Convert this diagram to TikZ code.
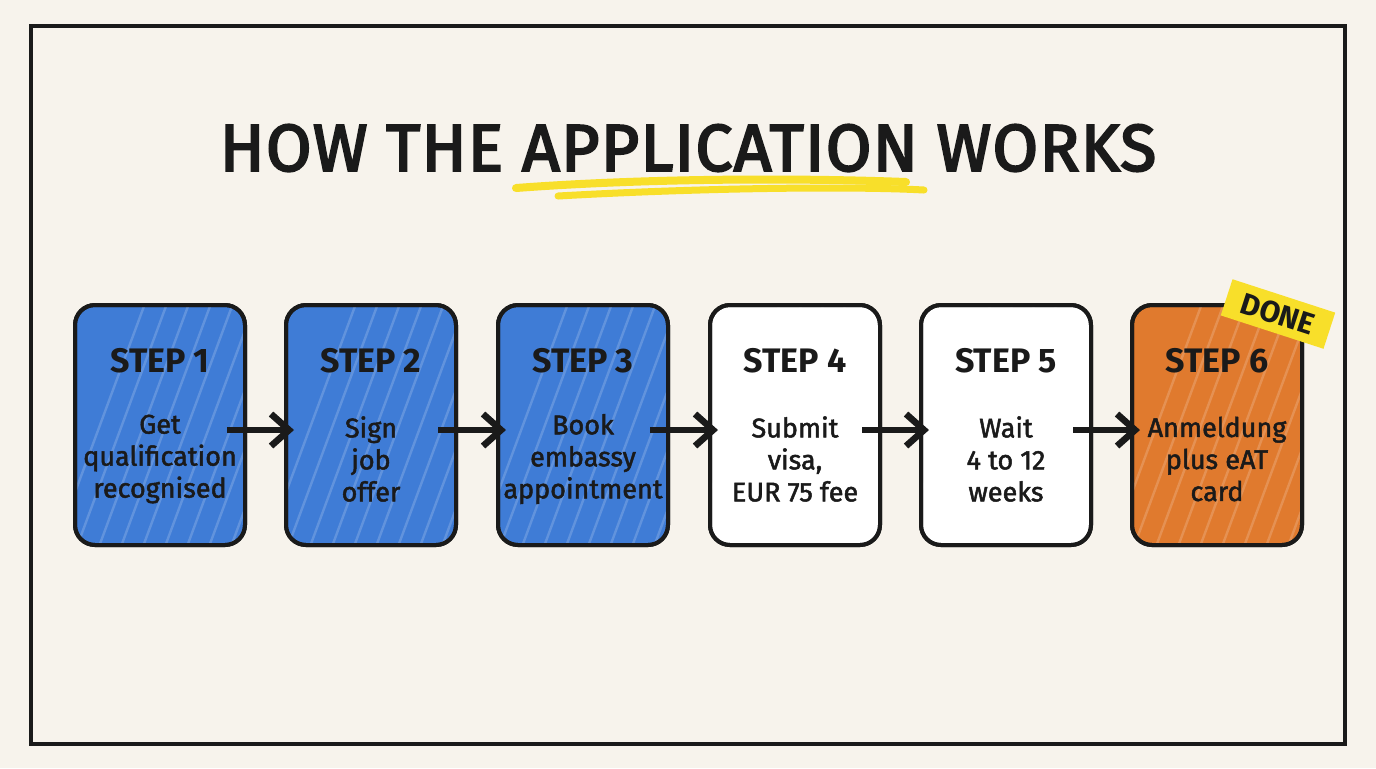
\documentclass[tikz,border=0pt]{standalone}
\usepackage{fontspec}
\setmainfont{Fira Sans}
\newfontfamily\bodyfont{Fira Sans}[FakeBold=1.8]
\newfontfamily\titlefont{Fira Sans}[FakeBold=3.2, LetterSpace=2]
\usetikzlibrary{arrows.meta}
\definecolor{bg}{HTML}{F7F3EC}
\definecolor{stepblue}{HTML}{3F7CD6}
\definecolor{steporange}{HTML}{E07A2E}
\definecolor{hl}{HTML}{F8DF2A}
\definecolor{ink}{HTML}{1A1A1A}
\tikzset{
  stepbox/.style={draw=ink, line width=2pt, rounded corners=10pt, minimum width=85pt, minimum height=120pt},
  steplabel/.style={font=\bfseries\fontsize{17}{20}\selectfont, text=ink},
  stepbody/.style={font=\bodyfont\fontsize{13.5}{16}\selectfont, text=ink, align=center},
  flow/.style={draw=ink, line width=3.3pt, -{Straight Barb[length=9pt,width=16pt,line width=3.3pt]}},
}
\begin{document}
\begin{tikzpicture}[x=0.5pt,y=-0.5pt]
\fill[bg] (0,0) rectangle (1376,768);
\useasboundingbox (0,0) rectangle (1376,768);
\draw[ink, line width=1.6pt] (31,26) rectangle (1345,744);
% title
\draw[hl, line width=4pt, line cap=round] (516,188) .. controls (650,178) and (800,178) .. (906,182);
\draw[hl, line width=3.5pt, line cap=round] (558,196) .. controls (700,188) and (850,186) .. (924,190);
\node[font=\titlefont\fontsize{33}{40}\selectfont, text=ink] (title) at (688,148) {HOW THE APPLICATION WORKS};
% boxes
\foreach \i/\x/\col in {1/160/stepblue,2/371/stepblue,3/583/stepblue,4/795/white,5/1006/white,6/1217/steporange}{
  \node[stepbox, fill=\col] (s\i) at (\x,425) {};
  \begin{scope}
    \clip[rounded corners=10pt] (\x-85,305) rectangle (\x+85,545);
    \foreach \k in {0,...,13}{
      \draw[white, opacity=0.18, line width=1.2pt] (\x-110+\k*22,560) -- (\x-10+\k*22,290);
    }
  \end{scope}
  \draw[ink, line width=2pt, rounded corners=10pt] (\x-85,305) rectangle (\x+85,545);
}
\foreach \i/\x in {1/160,2/371,3/583,4/795,5/1006,6/1217}{
  \node[steplabel] (l\i) at (\x,361) {STEP \i};
}
\node[stepbody] (b1) at (160,459) {Get\\qualification\\recognised};
\node[stepbody] (b2) at (371,459) {Sign\\job\\offer};
\node[stepbody] (b3) at (583,459) {Book\\embassy\\appointment};
\node[stepbody] (b4) at (795,459) {Submit\\visa,\\EUR 75 fee};
\node[stepbody] (b5) at (1006,459) {Wait\\4 to 12\\weeks};
\node[stepbody] (b6) at (1217,459) {Anmeldung\\plus eAT\\card};
% arrows
\foreach \a/\b in {1/2,2/3,3/4,4/5,5/6}{
  \coordinate (p\a) at ([xshift=-10pt,yshift=-2.5pt]s\a.east);
  \coordinate (q\a) at ([xshift=5pt,yshift=-2.5pt]s\b.west);
  \draw[flow] (p\a) -- (q\a);
}
% DONE tag
\node[fill=hl, rotate=-18, font=\bfseries\fontsize{15}{17}\selectfont, text=ink, minimum width=54pt, minimum height=19pt, inner sep=2pt] (done) at (1278,314) {DONE};
\end{tikzpicture}
\end{document}
